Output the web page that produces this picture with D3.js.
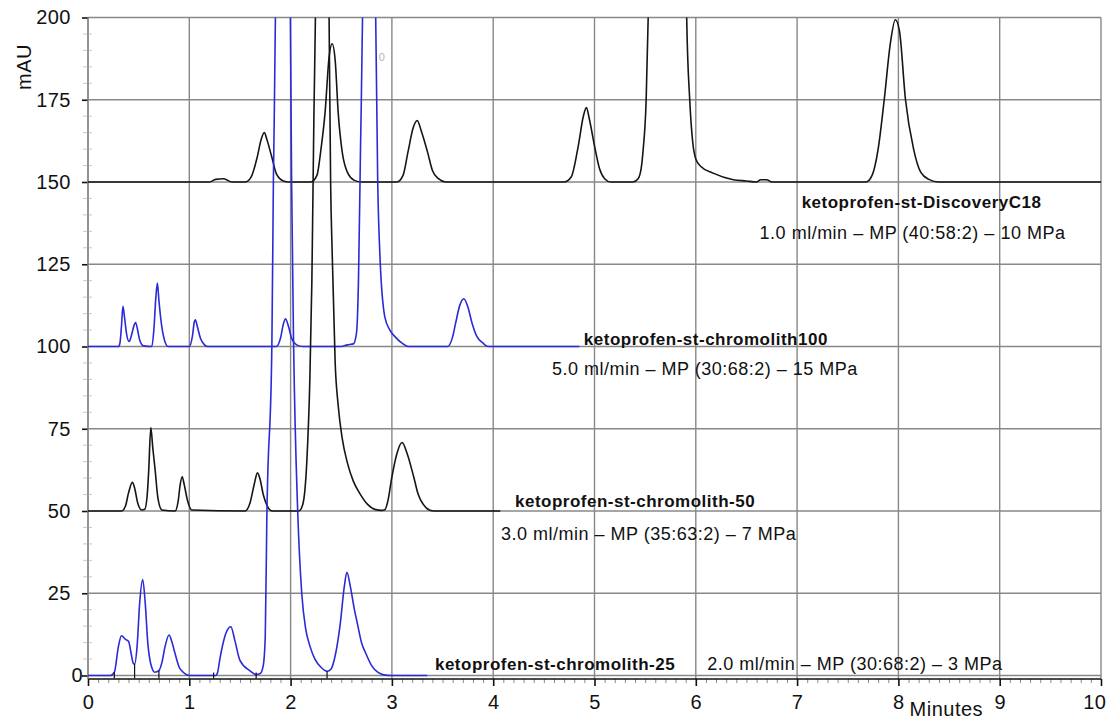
<!DOCTYPE html>
<html>
<head>
<meta charset="utf-8">
<script src="https://cdnjs.cloudflare.com/ajax/libs/d3/7.8.5/d3.min.js"></script>
<style>
  body { margin: 0; background: #ffffff; }
  svg { display: block; font-family: "Liberation Sans", Arial, sans-serif; }
</style>
</head>
<body>
<svg id="base" width="1108" height="722"></svg>
<script>
// ------------------ data (minutes, mAU above own baseline) -----------
var xTicks = [0, 1, 2, 3, 4, 5, 6, 7, 8, 9, 10];
var yTicks = [0, 25, 50, 75, 100, 125, 150, 175, 200];

var traceNames = ['ketoprofen-st-DiscoveryC18', 'ketoprofen-st-chromolith100',
                  'ketoprofen-st-chromolith-50', 'ketoprofen-st-chromolith-25'];
var conditions = ['1.0 ml/min \u2013 MP (40:58:2) \u2013 10 MPa', '5.0 ml/min \u2013 MP (30:68:2) \u2013 15 MPa',
                  '3.0 ml/min \u2013 MP (35:63:2) \u2013 7 MPa', '2.0 ml/min \u2013 MP (30:68:2) \u2013 3 MPa'];
var offsets = [150, 100, 50, 0];

var c18 = [[0,0],[1.2,0],[1.26,0.8],[1.34,1],[1.42,0],
  [1.55,0],[1.61,1.5],[1.67,7.5],[1.71,13],[1.74,15],[1.77,12.5],[1.815,7.5],[1.86,2.5],[1.93,0.3],[1.98,0],
  [2.2,0],[2.26,2],[2.3,10],[2.34,21],[2.38,38],[2.41,42],[2.44,37],[2.47,21],[2.51,9],[2.56,3],[2.63,0.5],[2.7,0],
  [3.05,0],[3.11,2],[3.16,9.3],[3.21,16.5],[3.25,18.7],[3.29,15.5],[3.35,9.3],[3.4,3.5],[3.46,1],[3.53,0],
  [4.7,0],[4.77,1.5],[4.84,11],[4.89,20],[4.92,22.6],[4.95,19],[5.0,11],[5.05,4],[5.1,1],[5.16,0],
  [5.38,0],[5.43,1],[5.46,4],[5.48,9.7],[5.51,25],[5.53,50],[5.56,120],[5.73,320],[5.89,120],[5.91,50],[5.94,25],
  [5.97,12],[6.0,7],[6.05,4.7],[6.17,2.7],[6.37,0.7],[6.5,0.3],[6.6,0],[6.64,0.7],[6.7,0.7],[6.75,0],
  [7.68,0],[7.74,2],[7.8,10],[7.86,25],[7.92,42],[7.97,49.3],[8.01,46],[8.07,25],[8.15,10],[8.22,3],[8.3,0.8],[8.4,0],
  [10,0]];

var c100 = [[0,0],[0.3,0],[0.315,1],[0.33,6],[0.345,12.2],[0.36,9],[0.38,4],[0.405,1.5],[0.43,3.5],[0.455,6.5],
  [0.47,7.3],[0.49,5],[0.51,2],[0.55,0.2],
  [0.63,0],[0.65,5],[0.67,15],[0.685,19.3],[0.7,14],[0.72,8],[0.75,2.5],[0.79,0],
  [1.0,0],[1.03,3],[1.05,7.5],[1.06,8.1],[1.08,6],[1.11,2.5],[1.15,0.5],[1.18,0],
  [1.86,0],[1.9,2.5],[1.93,7],[1.95,8.4],[1.98,6],[2.01,2.5],[2.06,0.5],[2.12,0],
  [2.5,0],[2.56,0.5],[2.62,0.8],[2.65,4],[2.67,20],[2.69,60],[2.71,100],[2.78,600],[2.84,100],[2.86,50],[2.88,29],
  [2.93,9],[2.98,5],[3.03,3],[3.1,1],[3.16,0],
  [3.55,0],[3.6,3],[3.63,7.25],[3.67,12.5],[3.71,14.5],[3.75,12],[3.79,7.25],[3.84,3],[3.9,1],[3.95,0],
  [4.85,0]];

var c50 = [[0,0],[0.33,0],[0.37,1.5],[0.4,5.5],[0.438,8.7],[0.46,7],[0.49,2.5],[0.53,0.3],[0.56,0.5],[0.585,5],
  [0.6,12.7],[0.62,25.4],[0.64,19],[0.662,12.7],[0.69,4],[0.73,0.3],
  [0.86,0],[0.89,3],[0.91,8],[0.93,10.4],[0.95,8],[0.98,3.5],[1.025,0.3],
  [1.55,0],[1.6,2.5],[1.64,8],[1.673,11.6],[1.7,9.5],[1.73,5],[1.77,1.5],[1.82,0],
  [2.08,0],[2.12,2],[2.16,15],[2.19,40],[2.21,70],[2.23,120],[2.245,150],[2.31,500],[2.38,150],[2.395,100],[2.41,79],
  [2.44,45],[2.47,32],[2.51,22],[2.56,14.7],[2.62,9],[2.69,5],[2.76,2],[2.83,0.5],[2.9,0.2],
  [2.93,0.4],[2.96,3],[3.0,10.4],[3.05,17.5],[3.1,20.8],[3.15,17.5],[3.215,10.4],[3.26,5],[3.31,2],[3.37,0.3],[3.42,0],
  [4.07,0]];

var c25 = [[0,0],[0.22,0],[0.26,1],[0.3,8.8],[0.33,12.1],[0.37,11],[0.4,10.4],[0.43,6],[0.447,3.7],[0.46,3.5],
  [0.485,9],[0.51,22],[0.54,29.2],[0.565,22],[0.59,10],[0.62,3.5],[0.66,1],
  [0.7,1.5],[0.73,4],[0.76,8.7],[0.8,12.3],[0.83,10],[0.86,6.6],[0.9,2.5],[0.94,1],[1.0,0],
  [1.26,0],[1.28,1],[1.3,4.7],[1.37,13.5],[1.41,14.8],[1.45,10.6],[1.5,4.6],[1.6,1.4],[1.66,0.3],
  [1.7,0.6],[1.73,3],[1.75,12],[1.765,47],[1.815,100],[1.83,150],[1.85,200],[1.92,900],[1.998,200],[2.01,150],
  [2.03,100],[2.07,50],[2.11,25],[2.15,14],[2.19,9],[2.24,5],[2.3,2.5],[2.36,1.3],
  [2.4,2],[2.44,6],[2.49,15.7],[2.53,27],[2.556,31.4],[2.59,27],[2.63,20],[2.66,15.7],[2.7,10],[2.74,6.9],
  [2.8,3],[2.86,1],[2.92,0.2],[3.0,0],
  [3.35,0]];

// integration marks under the chromolith-25 peaks (minutes, mAU where the mark meets the trace)
var marks25 = [[0.26,1],[0.46,3.5],[0.70,1.5],[1.24,0],[1.66,0.3],[2.36,1.3]];

var traces = [c18, c100, c50, c25];
var traceColors = ['#151515', '#2a2ad8', '#151515', '#2a2ad8'];

// ------------------ scales ---------------------------------------------
var svg = d3.select('#base');
var x = d3.scaleLinear().domain([0, 10]).range([88, 1101]);
var y = d3.scaleLinear().domain([0, 200]).range([675.5, 17.5]);
var axisY = 679;
var grid = '#888888';

// ------------------ grid -----------------------------------------------
svg.append('g').selectAll('line').data(yTicks).enter().append('line')
   .attr('x1', x(0)).attr('x2', x(10)).attr('y1', d => y(d)).attr('y2', d => y(d))
   .attr('stroke', grid).attr('stroke-width', 1.4);

svg.append('g').selectAll('line').data(xTicks).enter().append('line')
   .attr('x1', d => x(d)).attr('x2', d => x(d)).attr('y1', y(200)).attr('y2', axisY)
   .attr('stroke', grid).attr('stroke-width', 1.4);

// minor y ticks every 5 mAU
var yMinor = d3.range(0, 201, 5).filter(d => d % 25 != 0);
svg.append('g').selectAll('line').data(yMinor).enter().append('line')
   .attr('x1', x(0) - 5).attr('x2', x(0) + 4).attr('y1', d => y(d)).attr('y2', d => y(d))
   .attr('stroke', '#c8c8c8').attr('stroke-width', 1);

// ------------------ axes -----------------------------------------------
var xAxis = svg.append('g').attr('transform', `translate(0,${axisY})`)
               .call(d3.axisBottom(x).tickValues(xTicks).tickSize(7).tickPadding(9));
var xMinor = svg.append('g').attr('transform', `translate(0,${axisY})`)
               .call(d3.axisBottom(x).tickValues(d3.range(0, 100).map(i => i / 10).filter((d, i) => i % 10 != 0))
                                     .tickSize(4).tickFormat(''));
var yAxis = svg.append('g').attr('transform', `translate(${x(0)},0)`)
               .call(d3.axisLeft(y).tickValues(yTicks).tickSize(6).tickPadding(11));

[xAxis, xMinor, yAxis].forEach(g => g.select('.domain').remove());
xAxis.selectAll('line').attr('stroke', '#111').attr('stroke-width', 1.6);
xMinor.selectAll('line').attr('stroke', '#8a8a8a').attr('stroke-width', 1);
yAxis.selectAll('line').attr('stroke', '#111').attr('stroke-width', 1.6);
[xAxis, yAxis].forEach(g => g.selectAll('text').attr('fill', '#111')
                             .style('font-size', '20px').style('letter-spacing', '0.5px')
                             .style('font-family', '"Liberation Sans", Arial, sans-serif'));
yAxis.selectAll('.tick').filter(d => d == 0).select('text').attr('x', -5);
// last label sits left of its tick so it stays inside the frame
xAxis.selectAll('.tick').filter(d => d == 10).select('text').attr('text-anchor', 'end').attr('x', 5);

svg.append('line').attr('x1', x(0)).attr('x2', x(10)).attr('y1', axisY).attr('y2', axisY)
   .attr('stroke', '#111').attr('stroke-width', 1.5);
svg.append('line').attr('x1', x(0)).attr('x2', x(0)).attr('y1', y(200)).attr('y2', axisY)
   .attr('stroke', grid).attr('stroke-width', 1.4);

svg.append('text').attr('transform', `translate(31,${67}) rotate(-90)`).attr('text-anchor', 'middle')
   .style('font-size', '20px').style('letter-spacing', '0.5px').attr('fill', '#111').text('mAU');
svg.append('text').attr('x', x(8.11)).attr('y', 716)
   .style('font-size', '20px').style('letter-spacing', '0.5px').attr('fill', '#111').text('Minutes');

// ------------------ traces ---------------------------------------------
svg.append('clipPath').attr('id', 'plot').append('rect')
   .attr('x', x(0)).attr('y', y(200)).attr('width', x(10) - x(0)).attr('height', y(0) - y(200) + 3);

var line = d3.line().curve(d3.curveMonotoneX);

svg.append('g').attr('clip-path', 'url(#plot)').selectAll('path')
   .data(traces).enter().append('path')
   .attr('d', (d, i) => line(d.map(p => [x(p[0]), y(p[1] + offsets[i])])))
   .attr('fill', 'none').attr('stroke', (d, i) => traceColors[i]).attr('stroke-width', 1.6)
   .attr('stroke-linejoin', 'round');

svg.append('g').selectAll('line').data(marks25).enter().append('line')
   .attr('x1', d => x(d[0])).attr('x2', d => x(d[0]))
   .attr('y1', d => Math.min(y(d[1]), y(0) - 3)).attr('y2', y(0) + 3)
   .attr('stroke', '#111').attr('stroke-width', 1.2);

// ------------------ trace labels (minutes, pixel shift from own baseline) ----------
var titlePos = [[7.045, 26], [4.895, -1.5], [4.215, -4], [3.425, -6]];
var condPos  = [[6.63, 57], [4.58, 28.5], [4.077, 29], [6.113, -6]];

svg.append('g').selectAll('text').data(traceNames).enter().append('text')
   .attr('x', (d, i) => x(titlePos[i][0])).attr('y', (d, i) => y(offsets[i]) + titlePos[i][1])
   .style('font-size', '17px').style('font-weight', 'bold').style('letter-spacing', '0.5px')
   .attr('fill', '#111').text(d => d);

svg.append('g').selectAll('text').data(conditions).enter().append('text')
   .attr('x', (d, i) => x(condPos[i][0])).attr('y', (d, i) => y(offsets[i]) + condPos[i][1])
   .style('font-size', '18px').style('letter-spacing', '0.5px')
   .attr('fill', '#111').text(d => d);

// faint leftover marker near the top
svg.append('text').attr('x', x(2.87)).attr('y', y(188) + 4)
   .style('font-size', '11px').attr('fill', '#b4b4b4').text('0');
</script>
</body>
</html>
